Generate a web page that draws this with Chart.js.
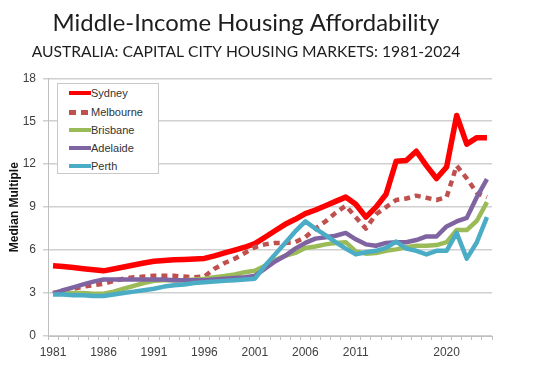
<!DOCTYPE html>
<html><head><meta charset="utf-8">
<script src="https://cdn.jsdelivr.net/npm/chart.js@4.4.1/dist/chart.umd.min.js"></script>
<style>
html,body{margin:0;padding:0;background:#fff;}
#wrap{position:relative;width:554px;height:389px;overflow:hidden;}
#legend{position:absolute;left:57px;top:83px;width:102px;height:91px;border:1px solid #c9c9c9;background:#fff;box-sizing:border-box;font:11px 'Liberation Sans',Arial,sans-serif;color:#333;}
.item{position:absolute;left:11px;height:14px;display:flex;align-items:center;white-space:nowrap;}
.sw{width:22px;height:4px;margin-right:0px;}
</style></head>
<body><div id="wrap"><canvas id="c" width="554" height="389"></canvas><div id="legend"></div></div>
<script>
const years = ['1981','1982','1983','1984','1985','1986','1987','1988','1989','1990','1991','1992','1993','1994','1995','1996','1997','1998','1999','2000','2001','2002','2003','2004','2005','2006','2007','2008','2009','2010','2011','2012','2013','2014','2015','2016','2017','2018','2019','2020','2021','2022','2023','2024'];
const tickLabels = ['1981','1986','1991','1996','2001','2006','2011','2020'];
const yTicks = [0,3,6,9,12,15,18];
const seriesNames = ['Sydney','Melbourne','Brisbane','Adelaide','Perth'];
const sydney = [4.9,4.85,4.78,4.7,4.62,4.55,4.68,4.82,4.96,5.1,5.22,5.27,5.32,5.35,5.38,5.42,5.6,5.8,6.0,6.2,6.45,6.9,7.35,7.8,8.15,8.55,8.8,9.1,9.4,9.7,9.2,8.3,9.0,9.9,12.2,12.25,12.9,11.9,11.0,11.8,15.4,13.4,13.85,13.85];
const melbourne = [3.0,3.15,3.3,3.45,3.55,3.65,3.85,4.0,4.1,4.15,4.2,4.2,4.2,4.15,4.1,4.15,4.7,5.1,5.4,5.8,6.2,6.4,6.5,6.5,6.55,6.9,7.5,8.0,8.6,9.1,8.3,7.5,8.5,9.0,9.5,9.6,9.8,9.65,9.5,9.7,11.9,11.0,10.0,9.7];
const brisbane = [3.0,3.0,3.0,3.0,2.95,2.95,3.1,3.3,3.5,3.7,3.85,3.9,3.9,3.9,3.95,4.0,4.1,4.2,4.3,4.45,4.55,4.9,5.3,5.6,5.8,6.15,6.25,6.4,6.5,6.55,5.9,5.75,5.8,5.95,6.05,6.2,6.3,6.3,6.35,6.55,7.4,7.4,8.05,9.35];
const adelaide = [2.95,3.2,3.4,3.6,3.8,3.95,3.95,3.95,3.95,3.95,3.95,3.95,3.9,3.9,3.9,3.9,3.95,4.0,4.05,4.1,4.2,4.7,5.2,5.6,6.1,6.5,6.8,6.9,7.0,7.2,6.75,6.4,6.3,6.5,6.55,6.55,6.7,6.95,6.95,7.65,8.0,8.25,9.7,10.95];
const perth = [2.9,2.9,2.85,2.85,2.8,2.8,2.9,3.0,3.1,3.2,3.3,3.45,3.55,3.6,3.7,3.75,3.8,3.85,3.9,3.95,4.0,4.9,5.7,6.5,7.3,8.0,7.5,7.05,6.55,6.1,5.7,5.85,5.95,6.15,6.6,6.1,5.95,5.7,5.95,5.95,7.2,5.4,6.55,8.3];
const seriesValues = [sydney, melbourne, brisbane, adelaide, perth];
const colors = ['#FF0000','#C0504D','#9BBB59','#8064A2','#4BACC6'];
const titleText = 'Middle-Income Housing Affordability';
const subtitleText = 'AUSTRALIA: CAPITAL CITY HOUSING MARKETS: 1981-2024';

function fit(text, font, target){
  const c = document.createElement('canvas').getContext('2d');
  c.font = '100px ' + font;
  return 100 * target / c.measureText(text).width;
}
const titleSize = fit(titleText, 'Lato', 387);
const subSize = fit(subtitleText, 'Lato', 429);

const datasets = seriesNames.map((n, i) => ({
  label: n,
  data: seriesValues[i],
  borderColor: colors[i],
  backgroundColor: colors[i],
  borderWidth: i === 0 ? 5.5 : 4.5,
  borderDash: i === 1 ? [6,5] : [],
  borderCapStyle: 'butt',
  borderJoinStyle: 'round',
  pointRadius: 0,
  tension: 0,
  fill: false,
  order: 5 - i
}));

new Chart(document.getElementById('c'), {
  type: 'line',
  data: { labels: years, datasets },
  options: {
    responsive: false,
    animation: false,
    layout: { padding: { right: 62, left: 0, top: 0, bottom: 0 } },
    plugins: {
      legend: { display: false },
      tooltip: { enabled: false },
      title: { display: true, text: titleText, color: '#1e1e1e',
        font: { family: 'Lato', size: titleSize, weight: 'normal', lineHeight: 1 },
        padding: { top: 11.7, bottom: 0 } },
      subtitle: { display: true, text: subtitleText, color: '#1e1e1e',
        font: { family: 'Lato', size: subSize, weight: 'normal', lineHeight: 1 },
        padding: { top: 9, bottom: 18 } }
    },
    scales: {
      x: {
        type: 'category',
        offset: true,
        afterFit: s => { s.height = 53; },
        grid: { offset: true, drawOnChartArea: false, drawTicks: true, tickLength: 4, color: '#bfbfbf' },
        border: { display: true, color: '#bfbfbf', width: 1 },
        ticks: {
          autoSkip: false, maxRotation: 0, minRotation: 0, padding: 5,
          color: '#404040',
          font: { family: "'Liberation Sans Narrow', 'Arial Narrow', 'Liberation Sans', Arial", size: 12 },
          callback: function(v, i){ const l = years[i]; return tickLabels.includes(l) ? l : ''; }
        }
      },
      y: {
        min: 0, max: 18,
        afterFit: s => { s.width = 48; },
        afterBuildTicks: s => { s.ticks = yTicks.map(v => ({ value: v })); },
        grid: { color: '#d0d0d0', lineWidth: 1.5, tickLength: 5, drawTicks: true },
        border: { display: true, color: '#bfbfbf', width: 1 },
        ticks: { padding: 7, color: '#404040',
          font: { family: "'Liberation Sans Narrow', 'Arial Narrow', 'Liberation Sans', Arial", size: 12 } },
        title: { display: true, text: 'Median Multiple', color: '#111',
          font: { family: "'Liberation Sans', Arial", size: 12, weight: 'bold', lineHeight: 1.2 },
          padding: { top: 7, bottom: 0 } }
      }
    }
  }
});

const lg = document.getElementById('legend');
const rowY = [10, 29, 47, 65, 83];
seriesNames.forEach((n, i) => {
  const it = document.createElement('div');
  it.className = 'item';
  it.style.top = (rowY[i] - 7 - 1) + 'px';
  const sw = document.createElement('span');
  sw.className = 'sw';
  if (i === 1) {
    sw.style.background = 'repeating-linear-gradient(to right,' + colors[i] + ' 0 7px, transparent 7px 12px)';
    sw.style.height = '5px';
    sw.style.width = '19px';
    sw.style.marginRight = '3px';
  } else {
    sw.style.background = colors[i];
  }
  const tx = document.createElement('span');
  tx.textContent = n;
  it.appendChild(sw); it.appendChild(tx);
  lg.appendChild(it);
});
</script>
</body></html>
